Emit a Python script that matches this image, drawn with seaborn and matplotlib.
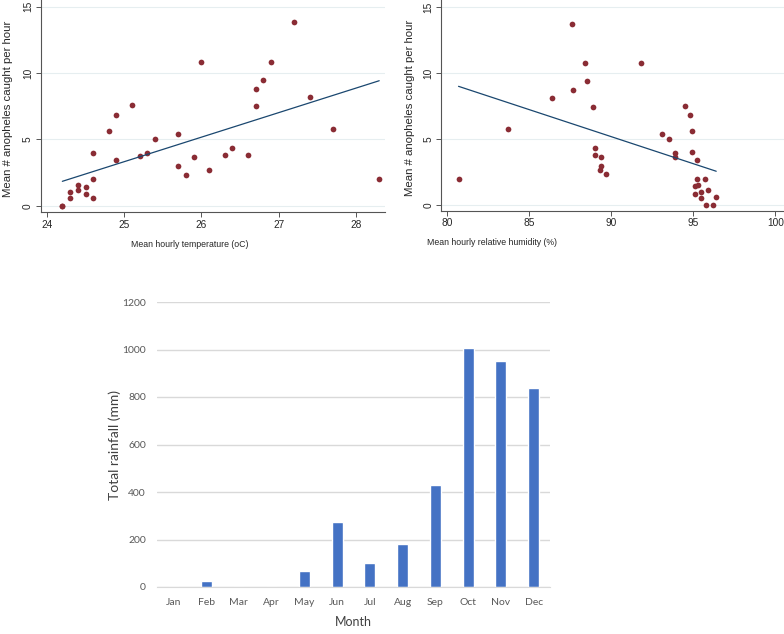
import numpy as np
import pandas as pd
import matplotlib
matplotlib.use("Agg")
import matplotlib.pyplot as plt
import seaborn as sns

# data
temp = [24.2, 24.2, 24.3, 24.3, 24.4, 24.4, 24.5, 24.5, 24.6, 24.6, 24.6, 24.8, 24.9, 24.9,
        25.1, 25.2, 25.3, 25.4, 25.7, 25.7, 25.8, 25.9, 26.0, 26.1, 26.3, 26.4, 26.6,
        26.7, 26.7, 26.8, 26.9, 27.2, 27.4, 27.7, 28.3]
count_t = [0.0, 0.0, 1.0, 0.58, 1.58, 1.18, 1.43, 0.85, 4.0, 2.0, 0.6, 5.6, 6.86, 3.42,
           7.56, 3.72, 4.0, 5.0, 5.38, 2.99, 2.34, 3.69, 10.8, 2.66, 3.82, 4.32, 3.82,
           8.79, 7.49, 9.5, 10.85, 13.84, 8.17, 5.78, 2.0]

humidity = [80.7, 83.7, 86.4, 87.6, 87.7, 88.4, 88.5, 88.9, 89.0, 89.0, 89.4, 89.4, 89.3,
            89.7, 91.8, 93.1, 93.5, 93.9, 93.9, 94.5, 94.8, 94.9, 94.9, 95.2, 95.2, 95.7,
            95.1, 95.3, 95.1, 95.5, 95.5, 95.9, 95.8, 96.2, 96.4]
count_h = [2.02, 5.78, 8.13, 13.76, 8.74, 10.78, 9.44, 7.45, 4.32, 3.84, 3.69, 2.98, 2.68,
           2.35, 10.76, 5.38, 5.0, 3.99, 3.69, 7.53, 6.82, 5.6, 4.0, 3.41, 2.0, 2.0,
           1.44, 1.57, 0.86, 1.0, 0.58, 1.19, 0.0, 0.0, 0.6]

months = ["Jan", "Feb", "Mar", "Apr", "May", "Jun", "Jul", "Aug", "Sep", "Oct", "Nov", "Dec"]
rainfall = [0, 24, 0, 0, 66, 274, 103, 180, 429, 1005, 951, 839]

sns.set_style("white")
plt.rcParams['font.family'] = ['Liberation Sans', 'DejaVu Sans']

W, H = 784, 634
fig = plt.figure(figsize=(W / 100, H / 100), dpi=100)

def px_axes(x0, y0, x1, y1):
    return fig.add_axes([x0 / W, 1 - y1 / H, (x1 - x0) / W, (y1 - y0) / H])

dot = "#8A2C34"
navy = "#1A476F"
grid_c = "#E6EEF0"

def stata_panel(ax, x, y, xlim, ylim, xticks, xlabel, label_x):
    sns.regplot(x=x, y=y, ax=ax, ci=None, truncate=True,
                scatter_kws=dict(s=17, color=dot, alpha=1, linewidths=0, zorder=3),
                line_kws=dict(color=navy, lw=0.9, zorder=4))
    ax.set_xlim(*xlim)
    ax.set_ylim(*ylim)
    ax.set_xticks(xticks)
    ax.set_yticks([0, 5, 10, 15])
    ax.yaxis.grid(True, color=grid_c, lw=0.8)
    ax.set_axisbelow(True)
    for s in ["top", "right"]:
        ax.spines[s].set_visible(False)
    for s in ["left", "bottom"]:
        ax.spines[s].set_color("#555555")
        ax.spines[s].set_linewidth(0.8)
    ax.tick_params(axis="both", direction="out", length=3.5, width=0.7, color="#555555",
                   labelsize=7.3, pad=2, left=True, bottom=True)
    for t in ax.get_yticklabels():
        t.set_rotation(90)
        t.set_va("center")
    ax.set_xlabel(xlabel, fontsize=6.3)
    ax.xaxis.set_label_coords(label_x, -0.13)
    ax.set_ylabel("Mean # anopheles caught per hour", fontsize=8.2)

ax1 = px_axes(40.7, 0, 385, 212)
stata_panel(ax1, temp, count_t, (23.92, 28.375), (-0.475, 15.5), [24, 25, 26, 27, 28],
            "Mean hourly temperature (oC)", 0.434)
ax1.yaxis.set_label_coords(-0.08, 0.488)

ax2 = px_axes(441.3, 0, 784, 210.7)
stata_panel(ax2, humidity, count_h, (79.65, 100.53), (-0.41, 15.55), [80, 85, 90, 95, 100],
            "Mean hourly relative humidity (%)", 0.148)
ax2.yaxis.set_label_coords(-0.078, 0.488)

# rainfall bar chart
ax3 = px_axes(157, 302, 550, 587)
sns.barplot(x=months, y=rainfall, ax=ax3, color="#4472C4", saturation=1, width=0.33)
ax3.set_xlim(-0.5, 11.5)
ax3.set_ylim(0, 1200)
ax3.set_yticks(range(0, 1201, 200))
ax3.yaxis.grid(True, color="#D9D9D9", lw=1)
ax3.set_axisbelow(True)
for s in ["top", "right", "left"]:
    ax3.spines[s].set_visible(False)
ax3.spines["bottom"].set_color("#D9D9D9")
ax3.tick_params(axis="both", length=0, labelsize=7.5, labelcolor="#595959", pad=8)
for t in ax3.get_xticklabels() + ax3.get_yticklabels():
    t.set_family(["Lato", "DejaVu Sans"])
ax3.set_xlabel("Month", fontsize=9, color="#404040", family=["Lato", "DejaVu Sans"])
ax3.xaxis.set_label_coords(0.5, -0.1)
ax3.set_ylabel("Total rainfall (mm)", fontsize=10, color="#404040", family=["Lato", "DejaVu Sans"])
ax3.yaxis.set_label_coords(-0.092, 0.5)

fig.savefig("out.png", dpi=100)
